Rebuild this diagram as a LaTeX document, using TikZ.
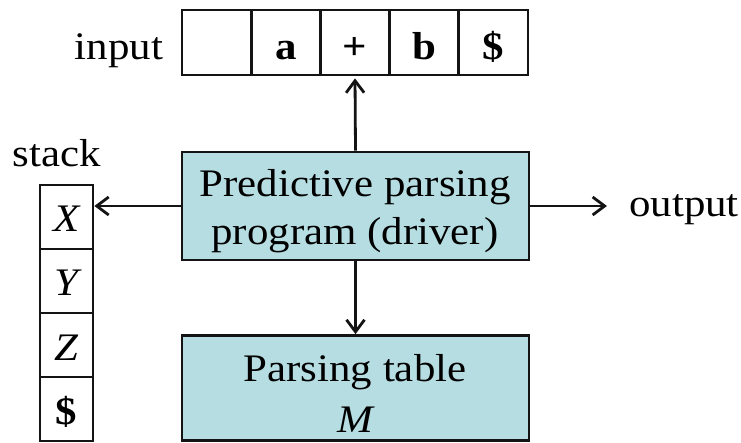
\documentclass[tikz,border=0pt]{standalone}
\usepackage{fontspec}
\setmainfont{Liberation Serif}
\usepackage{graphicx}
\usetikzlibrary{arrows.meta}
\definecolor{boxfill}{RGB}{181,221,226}
\definecolor{edgecol}{RGB}{20,20,20}
\newcommand\wtext[1]{\scalebox{1.1}[1]{#1}}
\begin{document}
\begin{tikzpicture}[x=1pt,y=-1pt,
  txt/.style={inner sep=0pt, anchor=base, font=\fontsize{39}{48}\selectfont},
  cellbox/.style={draw=edgecol, line width=2.8pt, minimum width=69.2pt, minimum height=65pt, inner sep=0pt,
    text height=42pt, text depth=7pt, font=\fontsize{39}{48}\selectfont\bfseries},
  stackbox/.style={draw=edgecol, line width=2.8pt, minimum width=53pt, minimum height=64pt, inner sep=0pt,
    text height=38pt, text depth=8pt, font=\fontsize{39}{48}\selectfont},
  bigbox/.style={draw=edgecol, line width=2.8pt, fill=boxfill, minimum width=347pt, inner sep=0pt},
  arr/.style={draw=edgecol, line width=2.8pt, -{Straight Barb[length=12pt,width=18pt]}}
]
\useasboundingbox (0,0) rectangle (741,443);
% input tape
\node[txt] (inlabel) at (119,60) {\wtext{input}};
\node[cellbox] (c1) at (216.6,42.5) {};
\node[cellbox] (c2) at (285.8,42.5) {\wtext{a}};
\node[cellbox] (c3) at (355.0,42.5) {\wtext{+}};
\node[cellbox] (c4) at (424.2,42.5) {\wtext{b}};
\node[cellbox] (c5) at (493.4,42.5) {\wtext{\$}};
% stack
\node[txt] (stlabel) at (57,167) {\wtext{stack}};
\node[stackbox] (s1) at (66.5,217) {\wtext{\itshape X}};
\node[stackbox] (s2) at (66.5,281) {\wtext{\itshape Y}};
\node[stackbox] (s3) at (66.5,345) {\wtext{\itshape Z}};
\node[stackbox] (s4) at (66.5,409) {\wtext{\bfseries\$}};
% driver
\node[bigbox, minimum height=108pt] (driver) at (355.5,206) {};
\node[txt] (drvA) at (355,197) {\wtext{Predictive parsing}};
\node[txt] (drvB) at (355,245) {\wtext{program (driver)}};
% parsing table
\node[bigbox, minimum height=105pt] (table) at (355.5,388) {};
\node[txt] (tabA) at (355,381) {\wtext{Parsing table}};
\node[txt] (tabB) at (355,432) {\wtext{\itshape M}};
% output
\node[txt] (outlabel) at (684,217) {\wtext{output}};
% connectors
\draw[arr, shorten >=2pt] (driver.north) -- (c3.south);
\draw[arr] (driver.south) -- (table.north);
\draw[arr] (driver.west) -- (driver.west -| s1.east);
\draw[arr, shorten >=22pt] (driver.east) -- (driver.east -| outlabel.west);
\end{tikzpicture}
\end{document}
